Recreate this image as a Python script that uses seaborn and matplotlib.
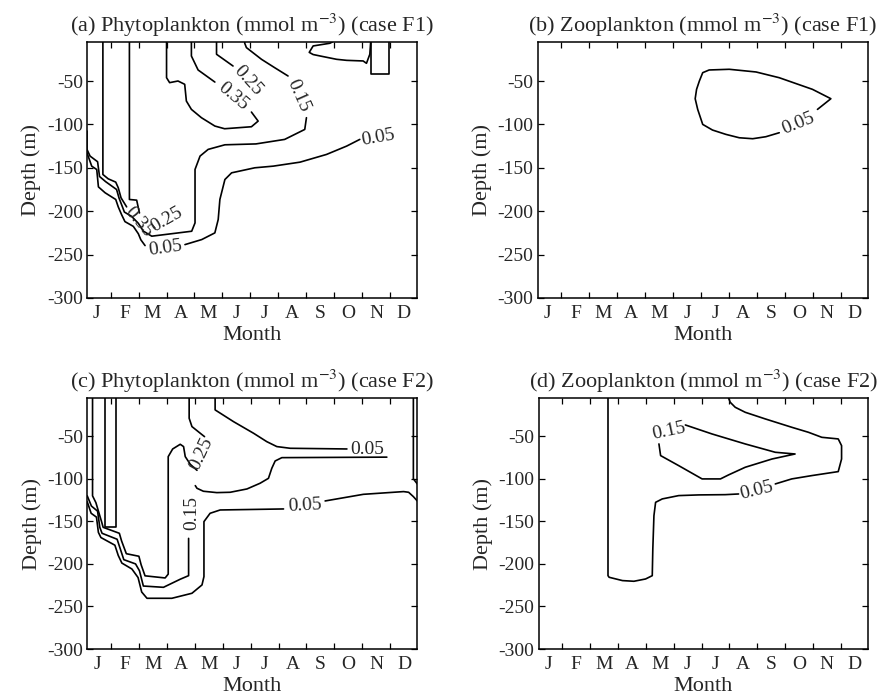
import numpy as np
import pandas as pd
import matplotlib
matplotlib.use("Agg")
import matplotlib.pyplot as plt
import seaborn as sns

# ---------------- data (month, depth) ----------------
months = ["J", "F", "M", "A", "M", "J", "J", "A", "S", "O", "N", "D"]
depth_ticks = [-50, -100, -150, -200, -250, -300]

titles = ["(a) Phytoplankton (mmol m$^{-3}$) (case F1)",
          "(b) Zooplankton (mmol m$^{-3}$) (case F1)",
          "(c) Phytoplankton (mmol m$^{-3}$) (case F2)",
          "(d) Zooplankton (mmol m$^{-3}$) (case F2)"]

# Panel (a)
a_005_left = [(0.15, -132.7), (0.32, -148.1), (0.50, -152.0), (0.56, -172.0), (0.80, -178.8),
              (1.18, -186.5), (1.27, -195.0), (1.39, -204.0), (1.51, -212.0), (1.81, -217.5),
              (1.99, -226.0), (2.08, -233.0), (2.23, -239.6)]
a_005_right = [(3.66, -238.5), (4.26, -232.7), (4.73, -225.0), (4.85, -209.6), (4.91, -186.5),
               (5.09, -163.5), (5.33, -155.8), (6.16, -150.0), (6.82, -148.1), (7.78, -143.5),
               (8.73, -134.6), (9.45, -125.0), (9.92, -117.3)]
a_015_lower = [(0.15, -107.7), (0.15, -128.8), (0.26, -136.5), (0.53, -143.0), (0.60, -160.0),
               (0.82, -166.0), (1.21, -175.0), (1.30, -185.0), (1.42, -195.0), (1.49, -201.0),
               (1.75, -206.0), (1.99, -214.0), (2.17, -223.0), (2.47, -228.8), (3.90, -223.1),
               (4.02, -213.5), (4.02, -151.9), (4.20, -136.5), (4.49, -128.8), (5.09, -123.5),
               (6.20, -122.5), (7.23, -117.3), (7.95, -105.8), (8.01, -92.3)]
a_015_upper = [(7.35, -44.2), (6.87, -34.6), (6.40, -25.0), (5.86, -11.5), (5.80, -6.5), (5.80, -5)]
a_025_top = [(4.79, -5), (4.79, -19.2), (5.38, -32.7)]
a_035_loop = [(3.00, -5), (3.00, -46.2), (3.11, -51.9), (3.41, -50.0), (3.65, -53.8), (3.71, -73.1),
              (3.89, -82.7), (4.25, -92.3), (4.73, -101.9), (5.08, -105.0), (6.04, -102.7),
              (6.28, -96.2), (6.04, -85.8)]
a_035_top = [(4.73, -51.2), (4.13, -37.3), (3.89, -21.2), (3.89, -5)]
a_v1 = [(0.72, -5), (0.72, -157.7), (0.91, -162.7), (1.18, -166.5), (1.27, -173.0),
        (1.37, -184.6), (1.57, -195.0)]
a_v2 = [(1.67, -5), (1.67, -186.5), (1.93, -187.3), (1.99, -196.2), (2.03, -202.0)]
a_patch = [(8.94, -5), (8.85, -6.5), (8.25, -9.6), (8.11, -17.0), (8.25, -19.5), (8.55, -21.5),
           (9.09, -25.0), (9.45, -26.2), (10.04, -26.9), (10.16, -29.6), (10.28, -19.2), (10.31, -5)]
a_box = [(10.31, -5), (10.31, -42.5), (10.97, -42.5), (10.97, -5)]
a_labels = [("0.05", 2.97, -243.0, 8), ("0.05", 10.58, -115.4, 10), ("0.15", 7.70, -67.0, -66),
            ("0.25", 5.92, -50.0, -48), ("0.35", 5.38, -68.1, -40), ("0.35", 1.99, -212.0, -50),
            ("0.25", 3.00, -209.6, 30)]

# Panel (b)
b_005 = [(10.17, -82.7), (10.65, -70.4), (9.99, -59.6), (8.80, -46.2), (7.97, -39.6), (7.01, -36.5),
         (6.29, -37.3), (6.06, -40.4), (5.94, -50.0), (5.84, -59.6), (5.79, -70.4), (5.88, -82.7),
         (6.06, -100.0), (6.41, -106.5), (6.89, -111.5), (7.37, -115.4), (7.85, -116.5),
         (8.32, -114.2), (8.80, -109.6)]
b_labels = [("0.05", 9.48, -98.8, 22)]

# Panel (c)
c_025_left = [(0.34, -5), (0.34, -120.0), (0.46, -128.0), (0.66, -150.0), (0.72, -157.0),
              (1.30, -164.0), (1.38, -173.0), (1.55, -188.0), (2.00, -191.0), (2.08, -201.0),
              (2.22, -214.0), (2.94, -216.5), (3.05, -212.0), (3.05, -73.9), (3.21, -64.9),
              (3.48, -59.4), (3.60, -62.1), (3.66, -73.9), (3.84, -82.9), (4.08, -90.0)]
c_025_top = [(4.35, -50.4), (4.20, -46.5), (3.90, -38.6), (3.80, -28.8), (3.80, -5)]
c_015_left = [(0.15, -120.0), (0.30, -132.0), (0.52, -138.0), (0.60, -157.0), (0.68, -164.0),
              (1.22, -171.0), (1.32, -181.0), (1.46, -195.0), (1.88, -200.0), (2.02, -208.0),
              (2.16, -226.0), (2.88, -227.5), (3.48, -218.0), (3.78, -213.8), (3.78, -170.0)]
c_015_right = [(4.02, -108.0), (4.08, -111.1), (4.31, -114.6), (4.79, -116.2), (5.27, -115.8),
               (5.87, -111.9), (6.34, -105.2), (6.64, -99.4), (6.76, -87.6), (6.88, -79.0),
               (7.12, -75.1), (10.88, -74.5)]
c_005_left = [(0.15, -127.0), (0.29, -140.5), (0.48, -145.0), (0.55, -163.0), (0.64, -169.0),
              (1.14, -178.0), (1.26, -190.0), (1.39, -199.0), (1.75, -206.0), (1.97, -216.0),
              (2.10, -233.0), (2.29, -240.4), (3.18, -240.4), (3.90, -234.5), (4.26, -224.7),
              (4.33, -214.9), (4.33, -150.3), (4.55, -140.5), (4.91, -136.6), (7.18, -135.4)]
c_005_right = [(8.67, -126.0), (10.04, -118.2), (11.48, -115.0), (11.66, -115.8), (11.83, -120.9),
               (11.97, -126.0)]
c_005_upper = [(4.73, -5), (4.73, -19.0), (5.39, -32.8), (6.11, -46.5), (6.58, -56.3),
               (6.94, -62.1), (7.42, -64.1), (9.45, -64.9)]
c_edge = [(11.83, -5), (11.83, -100.0), (11.97, -106.0)]
c_box = [(0.79, -5), (0.79, -157.0), (1.18, -157.0), (1.18, -5)]
c_labels = [("0.25", 4.24, -71.0, 65), ("0.15", 3.90, -140.5, 90), ("0.05", 7.95, -132.0, 3),
            ("0.05", 10.16, -66.1, 0)]

# Panel (d)
d_005_upper = [(6.97, -5), (7.03, -10.0), (7.21, -15.9), (7.57, -21.8), (8.29, -29.6),
               (9.24, -39.4), (9.84, -45.3), (10.32, -51.2), (10.91, -53.1), (11.03, -61.0),
               (11.03, -76.7), (10.91, -91.5), (9.96, -96.2), (9.24, -100.1), (8.65, -106.0)]
d_005_lower = [(7.33, -117.8), (6.85, -118.6), (5.90, -118.9), (5.18, -119.7), (4.59, -123.6),
               (4.35, -127.6), (4.29, -143.3), (4.25, -182.4), (4.23, -213.8), (3.99, -217.7),
               (3.57, -220.4), (3.16, -219.6), (2.68, -215.7), (2.64, -213.8), (2.64, -5)]
d_015 = [(5.42, -36.7), (6.38, -47.3), (7.57, -59.0), (8.65, -68.8), (9.36, -70.8), (8.53, -76.7),
         (7.57, -86.4), (6.97, -95.4), (6.68, -100.1), (6.02, -100.1), (5.18, -84.5),
         (4.53, -72.7), (4.47, -59.0)]
d_labels = [("0.05", 7.99, -113.8, 14), ("0.15", 4.83, -43.5, 12)]

panels = [
    ([a_005_left, a_005_right, a_015_lower, a_015_upper, a_025_top, a_035_loop, a_035_top,
      a_v1, a_v2, a_patch, a_box], a_labels),
    ([b_005], b_labels),
    ([c_025_left, c_025_top, c_015_left, c_015_right, c_005_left, c_005_right, c_005_upper,
      c_edge, c_box], c_labels),
    ([d_005_upper, d_005_lower, d_015], d_labels),
]

# ---------------- styling ----------------
sns.set_theme(style="white")
plt.rcParams["font.family"] = ["Liberation Serif", "DejaVu Serif"]
plt.rcParams["mathtext.fontset"] = "stix"
plt.rcParams["axes.unicode_minus"] = False

fig = plt.figure(figsize=(8.92, 6.98), dpi=100)
rects = [[0.0975, 0.5731, 0.3700, 0.3668],
         [0.6028, 0.5731, 0.3700, 0.3668],
         [0.0978, 0.0702, 0.3700, 0.3596],
         [0.6039, 0.0702, 0.3689, 0.3596]]

for rect, title, (segments, labels) in zip(rects, titles, panels):
    ax = fig.add_axes(rect)
    rows = []
    for i, seg in enumerate(segments):
        for m, d in seg:
            rows.append((i, m, d))
    df = pd.DataFrame(rows, columns=["seg", "month", "depth"])
    sns.lineplot(data=df, x="month", y="depth", units="seg", estimator=None, sort=False,
                 color="black", lw=1.2, ax=ax, legend=False)
    for txt, m, d, rot in labels:
        ax.text(m, d, txt, rotation=rot, ha="center", va="center", fontsize=14,
                rotation_mode="anchor")
    ax.set_xlim(0.15, 11.97)
    ax.set_ylim(-300, -5)
    ax.set_xticks(np.arange(1, 12))
    ax.set_xticklabels([])
    ax.set_xticks(np.arange(12) + 0.5, minor=True)
    ax.set_xticklabels(months, minor=True)
    ax.tick_params(axis="x", which="major", direction="in", length=4, width=0.9,
                   top=True, bottom=True, color="black")
    ax.tick_params(axis="x", which="minor", length=0, pad=5, labelsize=14)
    ax.set_yticks(depth_ticks)
    ax.set_yticklabels([str(v) for v in depth_ticks])
    ax.tick_params(axis="y", direction="in", length=4, width=0.9, left=True, right=True,
                   pad=3, labelsize=14, color="black")
    for sp in ax.spines.values():
        sp.set_color("black")
        sp.set_linewidth(1.1)
    ax.set_xlabel("Month", fontsize=16, labelpad=3)
    ax.set_ylabel("Depth (m)", fontsize=16, labelpad=4)
    ax.set_title(title, fontsize=16, pad=7)

fig.savefig("out.png", dpi=100)
